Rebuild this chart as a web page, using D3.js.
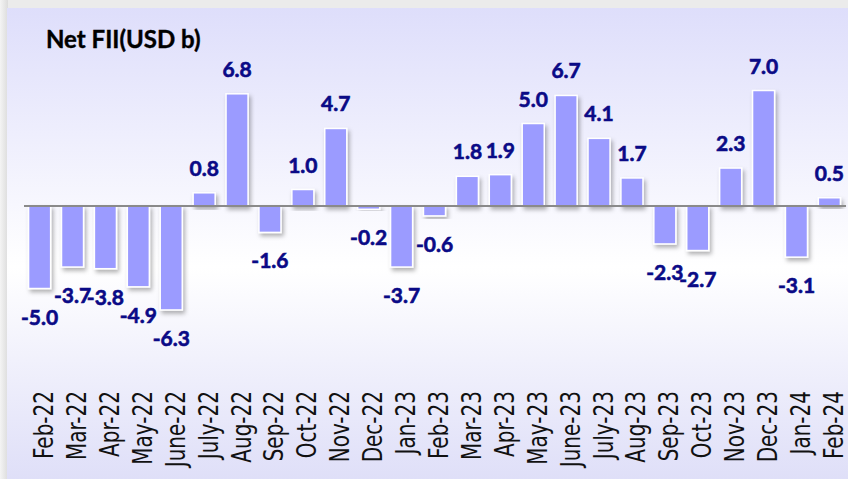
<!doctype html>
<html lang="en">
<head>
<meta charset="UTF-8">
<title>Net FII</title>
<script src="https://d3js.org/d3.v7.min.js"></script>
<style>
  body { margin: 0; background: #ececec; }
  .val { font-family: Lato, 'Open Sans', sans-serif; font-weight: 700; font-size: 21px; fill: #0a0a86; stroke: #0a0a86; stroke-width: 0.6px; }
  .tick-lab { font-family: 'DejaVu Sans', sans-serif; font-size: 20px; fill: #111; }
  .title { font-family: Lato, sans-serif; font-weight: 700; font-size: 24px; fill: #000; stroke: #000; stroke-width: 0.4px; }
</style>
</head>
<body>
<script>
// months and net FII flows (USD b)
const months = ["Feb-22","Mar-22","Apr-22","May-22","June-22","July-22","Aug-22","Sep-22","Oct-22","Nov-22","Dec-22","Jan-23",
  "Feb-23","Mar-23","Apr-23","May-23","June-23","July-23","Aug-23","Sep-23","Oct-23","Nov-23","Dec-23","Jan-24","Feb-24"];
const netFII = [-5.0,-3.7,-3.8,-4.9,-6.3,0.8,6.8,-1.6,1.0,4.7,-0.2,-3.7,
  -0.6,1.8,1.9,5.0,6.7,4.1,1.7,-2.3,-2.7,2.3,7.0,-3.1,0.5];

const width = 848, height = 479;

const svg = d3.select('body').append('svg')
    .attr('width', width)
    .attr('height', height);

const defs = svg.append('defs');
const grad = defs.append('linearGradient')
    .attr('id', 'bg').attr('x1', 0).attr('y1', 0).attr('x2', 0).attr('y2', 1);
grad.append('stop').attr('offset', '0%').attr('stop-color', '#dedefb');
grad.append('stop').attr('offset', '55%').attr('stop-color', '#ffffff');
grad.append('stop').attr('offset', '100%').attr('stop-color', '#dfdff8');

const edge = defs.append('linearGradient')
    .attr('id', 'edge').attr('x1', 0).attr('y1', 0).attr('x2', 1).attr('y2', 0);
edge.append('stop').attr('offset', '0%').attr('stop-color', '#f4f4f4');
edge.append('stop').attr('offset', '100%').attr('stop-color', '#dcdcdc');

const shadow = defs.append('filter').attr('id', 'shadow')
    .attr('x', '-30%').attr('y', '-30%').attr('width', '160%').attr('height', '160%');
shadow.append('feDropShadow')
    .attr('dx', 2).attr('dy', 3).attr('stdDeviation', 2)
    .attr('flood-color', '#000').attr('flood-opacity', 0.3);

// frame
svg.append('rect').attr('width', width).attr('height', height).attr('fill', '#ebebeb');
svg.append('rect').attr('x', 0).attr('y', 0).attr('width', 8).attr('height', height).attr('fill', 'url(#edge)');
svg.append('rect')
    .attr('x', 7).attr('y', 8)
    .attr('width', width - 7).attr('height', height - 8)
    .attr('fill', 'url(#bg)');

const x = d3.scaleBand()
    .domain(months)
    .range([23, 846])
    .paddingInner(0.33)
    .paddingOuter(0.17);

const y = d3.scaleLinear()
    .domain([-7, 8])
    .range([206 + 7 * 16.5, 206 - 8 * 16.5]);

// bars
svg.append('g').selectAll('rect')
    .data(netFII)
    .enter().append('rect')
    .attr('x', (d, i) => x(months[i]))
    .attr('y', d => y(Math.max(0, d)))
    .attr('width', x.bandwidth())
    .attr('height', d => Math.abs(y(d) - y(0)))
    .attr('fill', '#9b9bff')
    .attr('stroke', '#fff')
    .attr('stroke-width', 1.5)
    .attr('filter', 'url(#shadow)');

// zero line
svg.append('line')
    .attr('x1', 24).attr('x2', 846)
    .attr('y1', y(0)).attr('y2', y(0))
    .attr('stroke', '#8a8a8a')
    .attr('stroke-width', 2);

// value labels
svg.append('g').selectAll('text')
    .data(netFII)
    .enter().append('text')
    .attr('class', 'val')
    .attr('text-anchor', 'middle')
    .attr('x', (d, i) => x(months[i]) + x.bandwidth() / 2)
    .attr('y', d => d >= 0 ? y(d) - 17 : y(d) + 36)
    .text(d => d.toFixed(1));

// month labels
svg.append('g').selectAll('text')
    .data(months)
    .enter().append('text')
    .attr('class', 'tick-lab')
    .attr('text-anchor', 'end')
    .attr('transform', d => `translate(${x(d) + x.bandwidth() / 2 + 13.5},391) rotate(-90) scale(1,1.3)`)
    .text(d => d);

svg.append('text')
    .attr('class', 'title')
    .attr('x', 46).attr('y', 48)
    .text('Net FII(USD b)');
</script>
</body>
</html>
